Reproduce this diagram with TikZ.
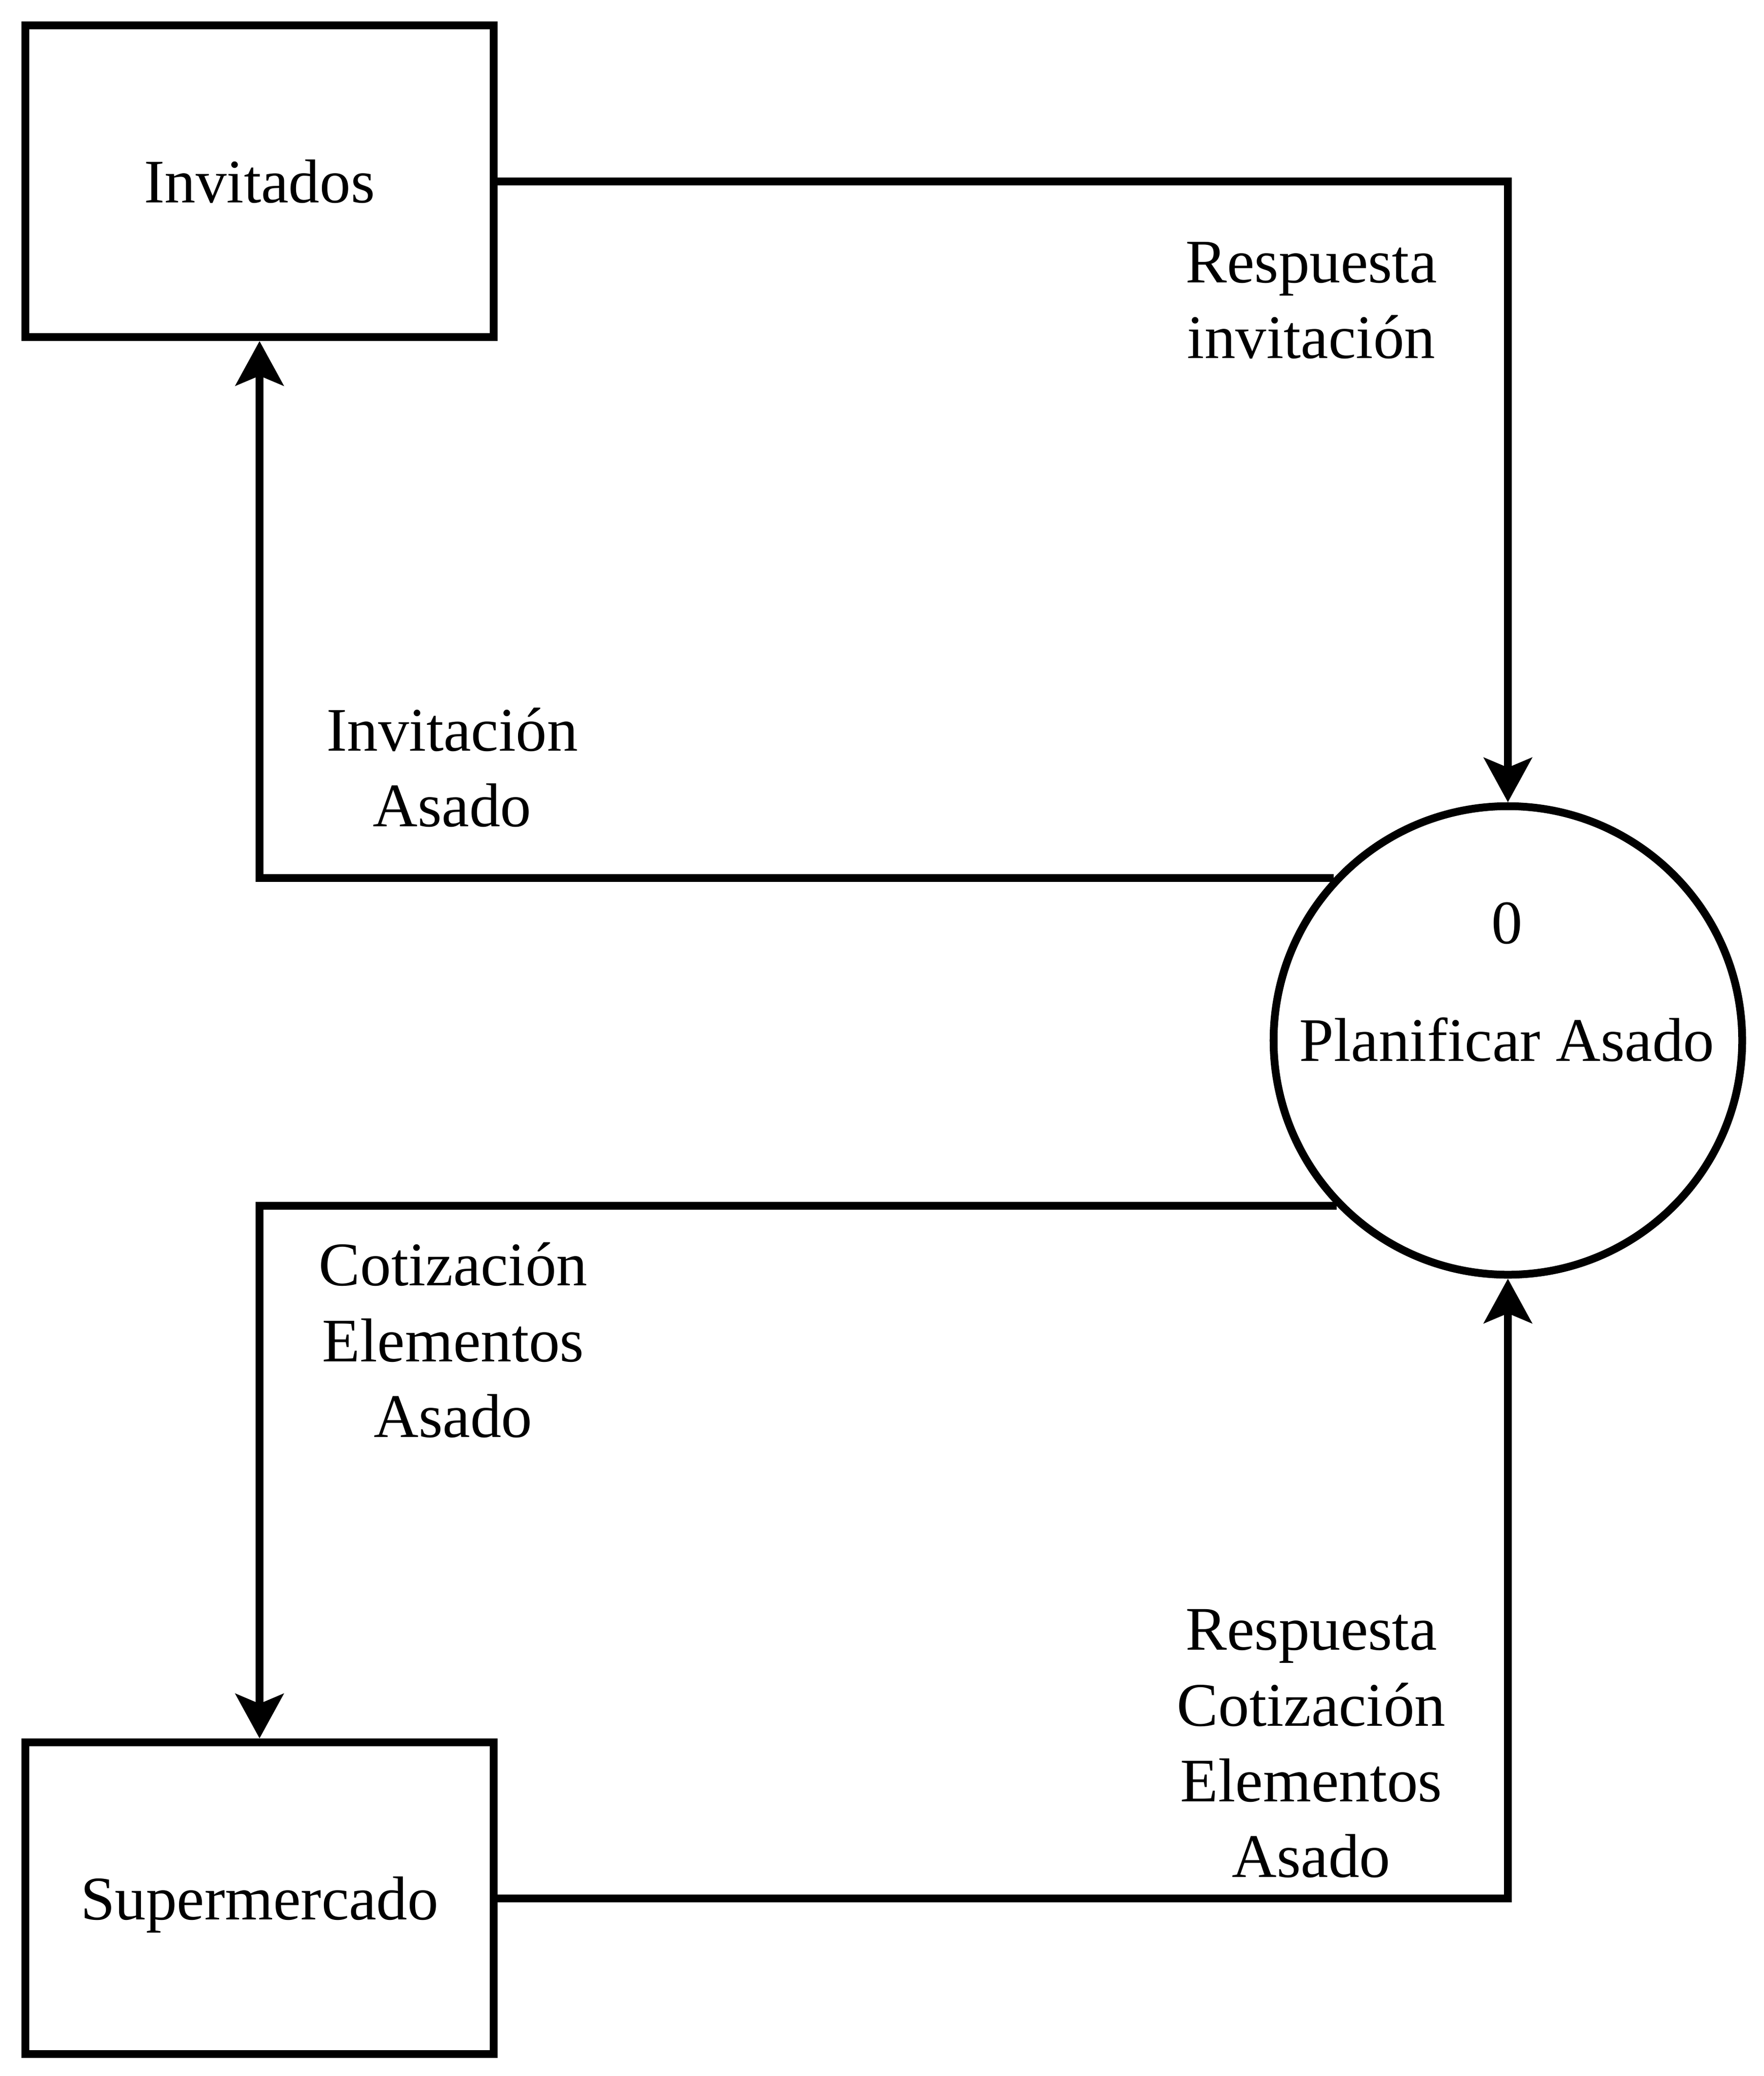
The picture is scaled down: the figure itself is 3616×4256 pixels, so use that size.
\documentclass[tikz,border=0pt]{standalone}
\usepackage{fontspec}
\setmainfont{Liberation Serif}
\usetikzlibrary{arrows.meta}
\newcommand\lbfont{\fontsize{1.27cm}{1.55cm}\selectfont}
\newcommand\lstrut{\rule[-0.227em]{0pt}{1.147em}}
\tikzset{
  ent/.style={draw, line width=0.16cm, minimum width=9.6cm, minimum height=6.39cm, inner sep=0pt, font=\lbfont},
  proc/.style={draw, circle, line width=0.16cm, minimum size=9.6cm, inner sep=0pt},
  flow/.style={line width=0.16cm, -{Stealth[length=0.91cm, width=0.98cm, inset=0.2cm]}},
  lbl/.style={align=center, font=\lbfont, inner sep=0pt},
}
\begin{document}
\begin{tikzpicture}[x=0.01cm, y=-0.01cm]
\useasboundingbox (0,0) rectangle (3616,4256);
\node[ent] (inv) at (532,371.5) {\lstrut Invitados};
\node[ent] (sup) at (532,3891.5) {\lstrut Supermercado};
\node[proc] (p) at (3091,2133) {};
\node[lbl] (ptext) at (3089,2011) {\lstrut 0\\[0.85cm]\lstrut Planificar Asado};

\draw[flow] (inv.east) -- (inv.east -| p.north) -- (p.north);
\draw[flow] (p.137.6) -- (p.137.6 -| inv.south) -- (inv.south);
\draw[flow] (p.224) -- (p.224 -| sup.north) -- (sup.north);
\draw[flow] (sup.east) -- (sup.east -| p.south) -- (p.south);

\node[lbl] (l1) at (2688,613) {\lstrut Respuesta\\\lstrut invitación};
\node[lbl] (l2) at (927,1573) {\lstrut Invitación\\\lstrut Asado};
\node[lbl] (l3) at (929,2747) {\lstrut Cotización\\\lstrut Elementos\\\lstrut Asado};
\node[lbl] (l4) at (2688,3571.5) {\lstrut Respuesta\\\lstrut Cotización\\\lstrut Elementos\\\lstrut Asado};
\end{tikzpicture}
\end{document}
